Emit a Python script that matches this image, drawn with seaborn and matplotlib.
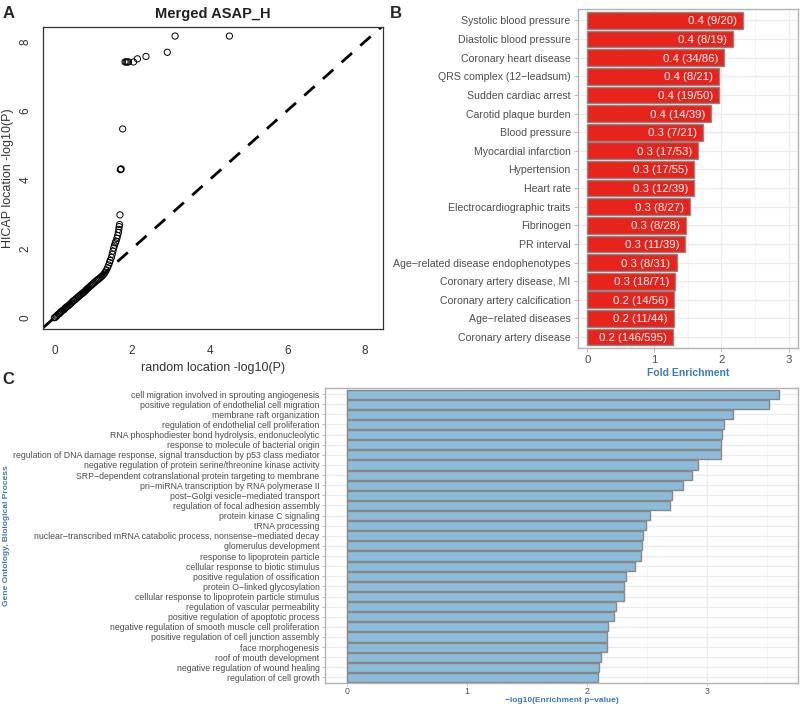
import matplotlib
matplotlib.use("Agg")
import matplotlib.pyplot as plt
import seaborn as sns
import pandas as pd
from matplotlib.ticker import MultipleLocator

# ---------------- data ----------------
# Panel A: QQ-style points (random vs HICAP -log10 P)
qq_x = [0.00, 0.02, 0.05, 0.07, 0.10, 0.13, 0.15, 0.18, 0.21, 0.24, 0.27, 0.29, 0.32, 0.35,
        0.38, 0.41, 0.44, 0.46, 0.49, 0.52, 0.55, 0.58, 0.61, 0.63, 0.66, 0.69, 0.72, 0.75,
        0.78, 0.81, 0.83, 0.86, 0.89, 0.92, 0.95, 0.98, 1.01, 1.04, 1.07, 1.10, 1.13, 1.16,
        1.19, 1.22, 1.25, 1.28, 1.31, 1.34, 1.37, 1.40, 1.42, 1.44, 1.47, 1.49, 1.51, 1.53,
        1.55, 1.57, 1.59, 1.61, 1.63, 1.65, 1.66, 1.67, 1.68, 1.69, 1.70, 1.71, 1.72, 1.76,
        1.82, 1.85, 1.88, 1.91, 2.04, 2.14, 2.36, 2.91, 3.11, 4.51]
qq_y = [0.00, 0.01, 0.04, 0.07, 0.10, 0.12, 0.15, 0.18, 0.21, 0.23, 0.26, 0.29, 0.32, 0.34,
        0.37, 0.40, 0.43, 0.46, 0.49, 0.51, 0.54, 0.57, 0.60, 0.62, 0.65, 0.68, 0.70, 0.73,
        0.76, 0.79, 0.82, 0.85, 0.88, 0.91, 0.94, 0.97, 1.00, 1.03, 1.06, 1.09, 1.11, 1.14,
        1.17, 1.20, 1.23, 1.27, 1.32, 1.38, 1.45, 1.53, 1.60, 1.66, 1.75, 1.84, 1.93, 2.02,
        2.10, 2.17, 2.22, 2.30, 2.38, 2.47, 2.56, 2.64, 2.70, 2.98, 4.29, 4.30, 4.31, 5.47,
        7.41, 7.41, 7.41, 7.41, 7.41, 7.50, 7.57, 7.69, 8.16, 8.16]

# Panel B: fold enrichment
traits = ["Systolic blood pressure", "Diastolic blood pressure", "Coronary heart disease",
          "QRS complex (12\u2212leadsum)", "Sudden cardiac arrest", "Carotid plaque burden",
          "Blood pressure", "Myocardial infarction", "Hypertension", "Heart rate",
          "Electrocardiographic traits", "Fibrinogen", "PR interval",
          "Age\u2212related disease endophenotypes", "Coronary artery disease, MI",
          "Coronary artery calcification", "Age\u2212related diseases", "Coronary artery disease"]
fold = [2.32, 2.17, 2.04, 1.96, 1.96, 1.85, 1.72, 1.65, 1.59, 1.59,
        1.53, 1.47, 1.46, 1.33, 1.31, 1.29, 1.29, 1.27]
bar_text = ["0.4 (9/20)", "0.4 (8/19)", "0.4 (34/86)", "0.4 (8/21)", "0.4 (19/50)",
            "0.4 (14/39)", "0.3 (7/21)", "0.3 (17/53)", "0.3 (17/55)", "0.3 (12/39)",
            "0.3 (8/27)", "0.3 (8/28)", "0.3 (11/39)", "0.3 (8/31)", "0.3 (18/71)",
            "0.2 (14/56)", "0.2 (11/44)", "0.2 (146/595)"]

# Panel C: GO biological process
go_terms = ["cell migration involved in sprouting angiogenesis",
            "positive regulation of endothelial cell migration",
            "membrane raft organization",
            "regulation of endothelial cell proliferation",
            "RNA phosphodiester bond hydrolysis, endonucleolytic",
            "response to molecule of bacterial origin",
            "regulation of DNA damage response, signal transduction by p53 class mediator",
            "negative regulation of protein serine/threonine kinase activity",
            "SRP\u2212dependent cotranslational protein targeting to membrane",
            "pri\u2212miRNA transcription by RNA polymerase II",
            "post\u2212Golgi vesicle\u2212mediated transport",
            "regulation of focal adhesion assembly",
            "protein kinase C signaling",
            "tRNA processing",
            "nuclear\u2212transcribed mRNA catabolic process, nonsense\u2212mediated decay",
            "glomerulus development",
            "response to lipoprotein particle",
            "cellular response to biotic stimulus",
            "positive regulation of ossification",
            "protein O\u2212linked glycosylation",
            "cellular response to lipoprotein particle stimulus",
            "regulation of vascular permeability",
            "positive regulation of apoptotic process",
            "negative regulation of smooth muscle cell proliferation",
            "positive regulation of cell junction assembly",
            "face morphogenesis",
            "roof of mouth development",
            "negative regulation of wound healing",
            "regulation of cell growth"]
go_logp = [3.60, 3.52, 3.22, 3.14, 3.13, 3.12, 3.12, 2.93, 2.88, 2.80, 2.71, 2.69, 2.53,
           2.49, 2.47, 2.46, 2.45, 2.40, 2.33, 2.31, 2.31, 2.24, 2.23, 2.18, 2.17, 2.17,
           2.12, 2.10, 2.09]

# ---------------- style ----------------
sns.set_theme(style="white")
plt.rcParams["font.family"] = ["Liberation Sans", "DejaVu Sans"]
TXT = "#4D4D4D"
BLUE = "#3A78C2"
GRID = "#EBEBEB"
GRIDMIN = "#F4F4F4"
BORDER = "#B3B3B3"

fig = plt.figure(figsize=(8.0, 7.04), dpi=100)

# ---------------- Panel A ----------------
axA = fig.add_axes([0.0534, 0.5322, 0.425, 0.4298])
sns.scatterplot(x=qq_x, y=qq_y, ax=axA, marker="o", s=20, facecolor="none",
                edgecolor="black", linewidth=0.7)
axA.axline((0, 0), slope=1, color="black", lw=2.0, dashes=(5, 4))
axA.set_xlim(-0.30, 8.46)
axA.set_ylim(-0.336, 8.43)
axA.set_xticks([0, 2, 4, 6, 8])
axA.set_yticks([0, 2, 4, 6, 8])
axA.tick_params(axis="x", direction="out", length=5, width=0.8, color="#333333",
                labelsize=8.5, labelcolor="#333333", pad=6)
axA.tick_params(axis="y", direction="out", length=5, width=0.8, color="#333333",
                labelsize=8.5, labelcolor="#333333", pad=3)
for lab in axA.get_yticklabels():
    lab.set_rotation(90)
    lab.set_va("center")
for sp in axA.spines.values():
    sp.set_visible(True)
    sp.set_color("#333333")
    sp.set_linewidth(0.9)
axA.set_xlabel("random location -log10(P)", fontsize=9, color="#333333", labelpad=4)
axA.set_ylabel("HICAP location -log10(P)", fontsize=9, color="#333333")
axA.yaxis.set_label_coords(-0.085, 0.5)
axA.set_title("Merged ASAP_H", fontsize=10.5, fontweight="bold", color="#222222", pad=6)
axA.grid(False)

# ---------------- Panel B ----------------
axB = fig.add_axes([0.7221, 0.5053, 0.2754, 0.4815])
dfB = pd.DataFrame({"trait": traits, "fold": fold})
axB.set_axisbelow(True)
sns.barplot(data=dfB, x="fold", y="trait", orient="h", ax=axB, color="#E8231C",
            saturation=1, width=0.9, edgecolor="#8A8A8A", linewidth=1.0)
for i, (v, t) in enumerate(zip(fold, bar_text)):
    axB.text(v - 0.09, i, t, ha="right", va="center_baseline", color="white", fontsize=8.2)
axB.set_xlim(-0.143, 3.14)
axB.set_ylim(len(traits) - 0.4, -0.6)
axB.xaxis.set_major_locator(MultipleLocator(1))
axB.xaxis.set_minor_locator(MultipleLocator(0.5))
axB.grid(which="major", axis="both", color=GRID, lw=0.9)
axB.grid(which="minor", axis="x", color=GRIDMIN, lw=0.6)
axB.tick_params(axis="both", which="major", length=3, width=0.6, color=BORDER,
                labelsize=7.6, labelcolor=TXT, pad=2, bottom=True, left=True)
axB.tick_params(axis="x", which="major", labelsize=8.2)
axB.tick_params(axis="x", which="minor", length=0)
for sp in axB.spines.values():
    sp.set_visible(True)
    sp.set_color(BORDER)
    sp.set_linewidth(1.0)
axB.set_ylabel("")
axB.set_xlabel("Fold Enrichment", fontsize=7.5, fontweight="bold", color=BLUE, labelpad=2)

# ---------------- Panel C ----------------
axC = fig.add_axes([0.40625, 0.0305, 0.59125, 0.4183])
dfC = pd.DataFrame({"term": go_terms, "logp": go_logp})
axC.set_axisbelow(True)
sns.barplot(data=dfC, x="logp", y="term", orient="h", ax=axC, color="#8CBCDA",
            saturation=1, width=0.9, edgecolor="#888888", linewidth=1.0)
axC.set_xlim(-0.18, 3.76)
axC.set_ylim(len(go_terms) - 0.5, -0.6)
axC.xaxis.set_major_locator(MultipleLocator(1))
axC.xaxis.set_minor_locator(MultipleLocator(0.5))
axC.grid(which="major", axis="both", color=GRID, lw=0.9)
axC.grid(which="minor", axis="x", color=GRIDMIN, lw=0.6)
axC.tick_params(axis="both", which="major", length=2.5, width=0.6, color=BORDER,
                labelsize=6.35, labelcolor=TXT, pad=1.5, bottom=True, left=True)
axC.tick_params(axis="x", which="major", pad=1)
axC.tick_params(axis="x", which="minor", length=0)
for sp in axC.spines.values():
    sp.set_visible(True)
    sp.set_color(BORDER)
    sp.set_linewidth(1.0)
axC.set_xlabel("\u2212log10(Enrichment p\u2212value)", fontsize=6, fontweight="bold",
               color=BLUE, labelpad=0.5)
fig.text(0.008, 0.2391, "Gene Ontology, Biological Process", rotation=90, ha="center",
         va="center", fontsize=6, fontweight="bold", color=BLUE)
axC.set_ylabel("")

# ---------------- panel letters ----------------
fig.text(0.003, 0.991, "A", fontsize=12, fontweight="bold", ha="left", va="top")
fig.text(0.487, 0.991, "B", fontsize=12, fontweight="bold", ha="left", va="top")
fig.text(0.003, 0.472, "C", fontsize=12, fontweight="bold", ha="left", va="top")

fig.savefig("out.png", dpi=100)
